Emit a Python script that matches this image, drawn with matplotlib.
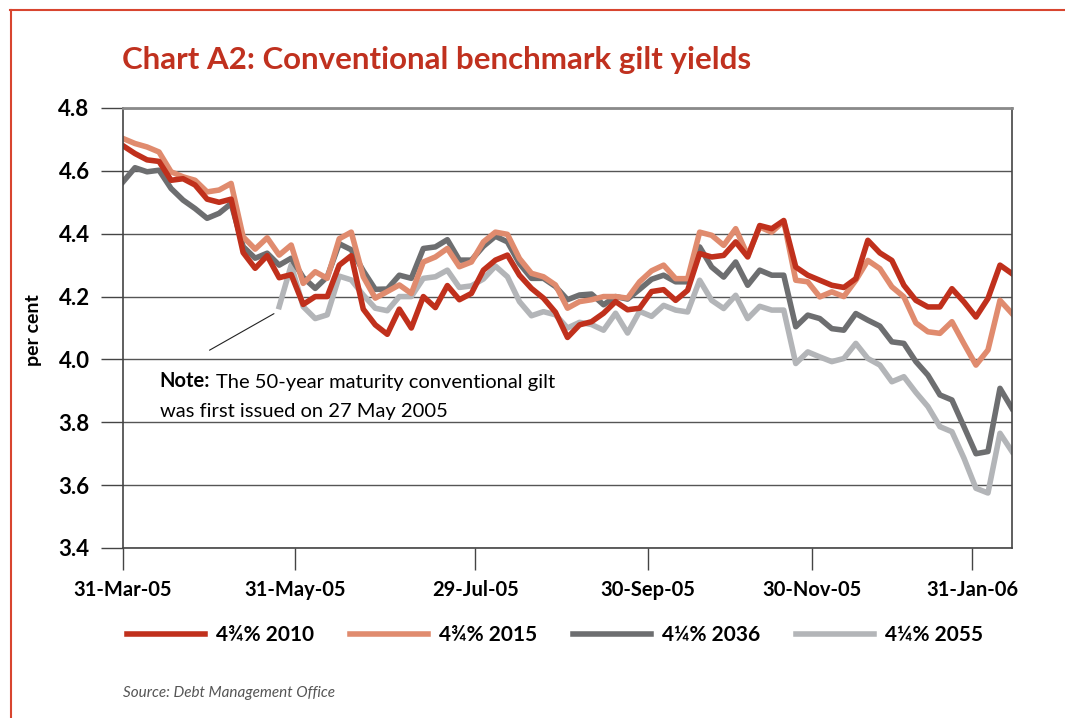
import matplotlib.pyplot as plt
from matplotlib.lines import Line2D
import numpy as np

plt.rcParams['font.family'] = ['Lato', 'DejaVu Sans']

# observations: every third trading day from 31-Mar-05
obs = np.arange(0, 223, 3)
tick_pos = [0, 43, 88, 131, 172, 212]
tick_labels = ['31-Mar-05', '31-May-05', '29-Jul-05', '30-Sep-05', '30-Nov-05', '31-Jan-06']

gilt_2010 = [4.68, 4.655, 4.635, 4.63, 4.57, 4.575, 4.555, 4.51, 4.50, 4.51, 4.34, 4.29, 4.33, 4.26, 4.27,
             4.175, 4.20, 4.20, 4.30, 4.33, 4.16, 4.11, 4.08, 4.16, 4.10, 4.20, 4.165, 4.235, 4.19, 4.21,
             4.284, 4.316, 4.332, 4.268, 4.226, 4.195, 4.15, 4.07, 4.11, 4.12, 4.147, 4.184, 4.158, 4.163, 4.216,
             4.222, 4.188, 4.22, 4.337, 4.326, 4.331, 4.374, 4.326, 4.426, 4.416, 4.442, 4.294, 4.268, 4.252, 4.236,
             4.229, 4.257, 4.379, 4.339, 4.315, 4.236, 4.188, 4.167, 4.167, 4.225, 4.183, 4.135, 4.194, 4.30, 4.273]
gilt_2015 = [4.703, 4.687, 4.676, 4.660, 4.597, 4.581, 4.570, 4.533, 4.539, 4.560, 4.390, 4.351, 4.387, 4.332, 4.364,
             4.242, 4.279, 4.258, 4.384, 4.405, 4.263, 4.195, 4.216, 4.237, 4.21, 4.31, 4.326, 4.353, 4.295, 4.31,
             4.374, 4.405, 4.398, 4.321, 4.274, 4.263, 4.237, 4.163, 4.184, 4.19, 4.20, 4.20, 4.195, 4.247, 4.282,
             4.30, 4.257, 4.257, 4.405, 4.395, 4.363, 4.416, 4.331, 4.421, 4.405, 4.44, 4.252, 4.247, 4.199, 4.215,
             4.20, 4.252, 4.315, 4.289, 4.231, 4.199, 4.116, 4.088, 4.083, 4.12, 4.05, 3.982, 4.03, 4.188, 4.146]
gilt_2036 = [4.565, 4.61, 4.597, 4.602, 4.544, 4.507, 4.48, 4.449, 4.465, 4.496, 4.359, 4.322, 4.338, 4.30, 4.322,
             4.261, 4.226, 4.263, 4.368, 4.349, 4.282, 4.223, 4.224, 4.268, 4.258, 4.353, 4.358, 4.381, 4.316, 4.316,
             4.36, 4.392, 4.374, 4.305, 4.258, 4.258, 4.232, 4.19, 4.205, 4.208, 4.174, 4.20, 4.192, 4.223, 4.255,
             4.268, 4.247, 4.247, 4.358, 4.294, 4.262, 4.31, 4.236, 4.284, 4.268, 4.268, 4.104, 4.141, 4.13, 4.098,
             4.093, 4.146, 4.125, 4.106, 4.056, 4.051, 3.993, 3.95, 3.887, 3.871, 3.786, 3.70, 3.707, 3.908, 3.844]
# 50-year gilt first issued 27 May 2005
gilt_2055 = [np.nan] * 13 + [
             4.168, 4.30,
             4.168, 4.13, 4.142, 4.265, 4.253, 4.205, 4.163, 4.155, 4.20, 4.20, 4.258, 4.263, 4.284, 4.229, 4.234,
             4.256, 4.297, 4.263, 4.184, 4.139, 4.152, 4.142, 4.10, 4.118, 4.111, 4.093, 4.147, 4.084, 4.153, 4.137,
             4.172, 4.157, 4.151, 4.252, 4.188, 4.162, 4.204, 4.13, 4.169, 4.157, 4.157, 3.987, 4.024, 4.008, 3.993,
             4.003, 4.051, 4.003, 3.982, 3.929, 3.945, 3.895, 3.85, 3.786, 3.77, 3.686, 3.59, 3.575, 3.765, 3.707]

series = [('4¼% 2055', gilt_2055, '#b3b5b8'),
          ('4¼% 2036', gilt_2036, '#6d6e70'),
          ('4¾% 2015', gilt_2015, '#e08b6e'),
          ('4¾% 2010', gilt_2010, '#c0301c')]

fig = plt.figure(figsize=(10.65, 7.18), dpi=100)
ax = fig.add_axes([123 / 1065, 1 - 548 / 718, 889 / 1065, 440 / 718])

lines = {}
for label, vals, col in series:
    ln, = ax.plot(obs, vals, color=col, lw=4.0, solid_joinstyle='round', label=label)
    lines[label] = ln

ax.set_xlim(0, 222)
ax.set_ylim(3.4, 4.8)
ax.set_yticks(np.arange(3.4, 4.81, 0.2))
ax.set_yticklabels([f'{v:.1f}' for v in np.arange(3.4, 4.81, 0.2)])
ax.set_xticks(tick_pos)
ax.set_xticklabels(tick_labels)
ax.grid(axis='y', color='#555555', lw=1.0)
ax.set_axisbelow(True)

ax.tick_params(axis='both', direction='out', length=16, width=1.0, color='#444444',
               labelcolor='black')
ax.tick_params(axis='y', pad=8, labelsize=16)
ax.tick_params(axis='x', pad=7, labelsize=14.5)
for t in ax.get_xticklabels() + ax.get_yticklabels():
    t.set_fontweight('bold')
for side in ['left', 'right', 'bottom']:
    ax.spines[side].set_color('#444444')
    ax.spines[side].set_linewidth(1.2)
ax.spines['top'].set_color('#8a8a8a')
ax.spines['top'].set_linewidth(2)

fig.text(33 / 1065, 1 - 330 / 718, 'per cent', fontsize=14, fontweight='bold',
         rotation=90, ha='center', va='center')

# note about the 50-year gilt
note = ax.text(9.2, 3.90, 'Note:', fontsize=14.5, fontweight='bold', va='bottom')
ax.annotate('The 50-year maturity conventional gilt', xy=(1, 0), xycoords=note,
            xytext=(4, 0), textcoords='offset points', fontsize=14.5, va='bottom')
ax.text(9.2, 3.808, 'was first issued on 27 May 2005', fontsize=14.5, va='bottom')
ax.annotate('', xy=(38.3, 4.15), xytext=(21, 4.025),
            arrowprops=dict(arrowstyle='-', color='#222222', lw=0.8))

fig.text(122 / 1065, 1 - 60 / 718, 'Chart A2: Conventional benchmark gilt yields',
         fontsize=22.5, fontweight='bold', color='#c0311f', va='center')

order = ['4¾% 2010', '4¾% 2015', '4¼% 2036', '4¼% 2055']
fig.legend([lines[k] for k in order], order, loc='center',
           bbox_to_anchor=(555 / 1065, 1 - 635 / 718), ncol=4, frameon=False,
           handlelength=3.75, handletextpad=0.55, columnspacing=1.7,
           prop={'weight': 'bold', 'size': 15})

fig.text(123 / 1065, 1 - 693 / 718, 'Source: Debt Management Office', fontsize=11,
         style='italic', color='#555555', va='center')

# red frame
fig.add_artist(Line2D([10 / 1065, 1], [1 - 10 / 718] * 2, color='#d8452f', lw=1.5))
fig.add_artist(Line2D([11 / 1065] * 2, [0, 1 - 10 / 718], color='#d8452f', lw=1.5))

fig.savefig('out.png', dpi=100)
